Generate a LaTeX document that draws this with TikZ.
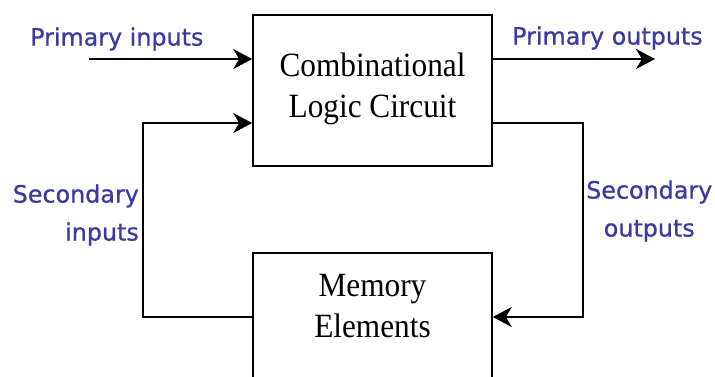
\documentclass[tikz,border=0pt]{standalone}
\usepackage{fontspec}
\setmainfont{Liberation Serif}
\newfontfamily\condserif[FakeStretch=0.92]{Liberation Serif}
\newfontfamily\lblfont[FakeBold=0.8]{DejaVu Sans}
\usetikzlibrary{arrows.meta}
\definecolor{lblblue}{RGB}{58,58,160}
\begin{document}
\begin{tikzpicture}[x=1pt,y=-1pt,
  blk/.style={draw=black,line width=1.6pt,rectangle,minimum width=239pt,minimum height=151pt,inner sep=0pt},
  btxt/.style={font=\condserif\fontsize{34}{41}\selectfont,align=center,inner sep=0pt},
  lbl/.style={font=\lblfont\fontsize{23.8}{38}\selectfont,text=lblblue,inner sep=0pt},
  conn/.style={line width=2.2pt,-{Stealth[length=19pt,width=20pt,inset=6pt]}},
  wire/.style={line width=2.2pt}]
\clip (0,0) rectangle (715,376);
\fill[white] (0,0) rectangle (715,376);
\node[blk] (clc) at (372.5,90.5) {};
\node[btxt] (clctxt) at (372.5,89) {Combinational\\Logic Circuit};
\node[blk] (mem) at (372.5,328.5) {};
\node[btxt] (memtxt) at (372.5,306) {Memory\\Elements};
% connectors
\coordinate (pistart) at (89,59);
\coordinate (poend) at (655,59);
\coordinate (siu) at (143,123);
\coordinate (sil) at (143,317);
\coordinate (sou) at (583,123);
\coordinate (sol) at (583,317);
\draw[conn] (pistart) -- (pistart -| clc.west);
\draw[conn] (poend -| clc.east) -- (poend);
\draw[conn] (sil -| mem.west) -- (sil) -- (siu) -- (siu -| clc.west);
\draw[conn] (sou -| clc.east) -- (sou) -- (sol) -- (sol -| mem.east);
% labels
\node[lbl,anchor=west] (pil) at (30,39) {Primary inputs};
\node[lbl,anchor=west] (pol) at (512,38) {Primary outputs};
\node[lbl,anchor=east,align=right] (sil2) at (139,215) {Secondary\\inputs};
\node[lbl,anchor=west,align=center] (sol2) at (586,211) {Secondary\\outputs};
\end{tikzpicture}
\end{document}
